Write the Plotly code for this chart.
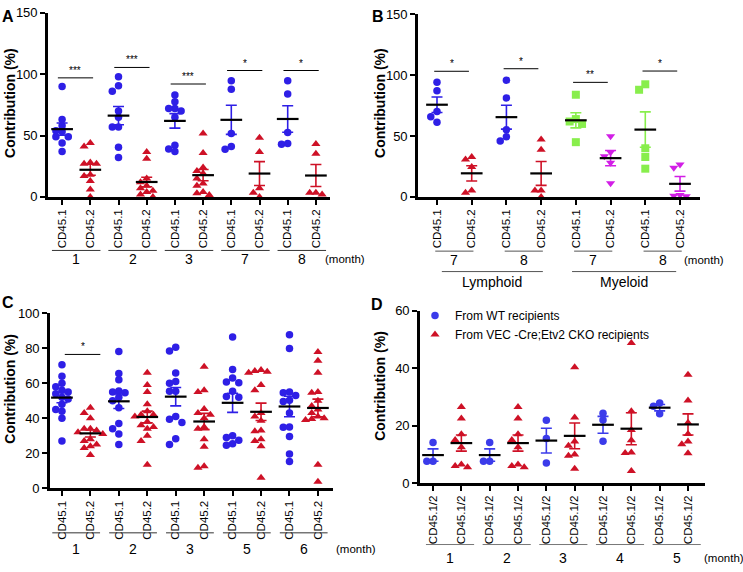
import numpy as np
import plotly.graph_objects as go

W, H = 743, 572

BLUE = "#2E1FE6"
BLUE_D = "#3B3BEA"
RED = "#CE1126"
GREEN = "#88EE4C"
MAGENTA = "#D21EE6"

# ---------------- Panel A data ----------------
A_ticks = ["CD45.1", "CD45.2"] * 5
A_groups = ["1", "2", "3", "7", "8"]
A_values = [
    [90, 63, 58, 54, 53, 49, 49, 44, 37],
    [44, 41, 28, 27, 27, 18, 17, 13, 6, 0],
    [98, 90.5, 86, 70, 65, 57, 57, 40.5, 32],
    [36.5, 31, 15, 12, 9, 7, 5, 4, 2, 0],
    [83, 77.5, 72, 72, 70, 65, 42, 39, 37],
    [51.6, 35.7, 24, 21, 19, 15, 11, 9, 4, 3, 1.5],
    [94.7, 87.8, 51.6, 41, 38.9],
    [48.1, 36.5, 7.1, 3.4, 0],
    [94.7, 83.9, 52.4, 42.9, 43.6],
    [43.1, 35.2, 3.4, 2, 3.4],
]
A_sig = ["***", "***", "***", "*", "*"]
A_sig_y = [97, 105.5, 92, 103, 103]

# ---------------- Panel B data ----------------
B_ticks = ["CD45.1", "CD45.2"] * 4
B_groups = ["7", "8", "7", "8"]
B_lineages = ["Lymphoid", "Myeloid"]
B_values = [
    [94.2, 87.3, 70.2, 65.9, 61.4],
    [30.7, 32.8, 24.6, 3.5, 5.3],
    [96, 81.4, 55.2, 45.9, 49.4],
    [47.2, 38.7, 5.3, 5.3, 0],
    [84, 64, 62, 60, 45],
    [49.9, 33.4, 36.8, 28, 11.2],
    [88.1, 92.6, 40, 32.8, 23.2],
    [26.7, 24, 1.5, 0.5, 1],
]
B_sig = ["*", "*", "**", "*"]
B_sig_y = [103.3, 105.4, 94.2, 103.5]

# ---------------- Panel C data ----------------
C_ticks = ["CD45.1", "CD45.2"] * 5
C_groups = ["1", "2", "3", "5", "6"]
C_values = [
    [70.5, 64, 60, 58, 56, 55, 54, 52, 51, 48, 45, 44, 40, 27],
    [46, 43, 40, 34, 34, 33, 32, 31, 28, 27, 25, 24, 23, 19],
    [78, 65.5, 62, 55.5, 55, 54.5, 52, 50, 46, 37, 34, 31, 25],
    [66, 59, 55, 48, 44, 42, 42, 41, 38, 36, 35, 34, 30, 27, 13.5],
    [80.5, 78.3, 65.8, 61, 60, 55.4, 55.4, 41, 39.4, 37.6, 28.3, 25],
    [69.4, 56, 55, 45.3, 43, 42, 40, 35, 34, 28, 23.7, 12.6, 11.7],
    [86.3, 67.8, 63, 60.7, 60.2, 55.4, 52.4, 52, 30, 29, 27.4, 25.5, 24.6],
    [67.5, 67, 66.5, 66, 59, 56, 43, 41, 38.5, 33, 32.5, 28, 27, 24, 6],
    [87.6, 79.8, 55, 54.5, 53, 50.2, 49.6, 43, 35, 34.8, 29.6, 19.6, 15.3],
    [77.8, 72.8, 66, 55, 54.5, 50, 47, 45, 43, 41, 40, 39.5, 39, 13.5, 3.7],
]
C_sig = ["*"]
C_sig_y = [76.4]

# ---------------- Panel D data ----------------
D_ticks = ["CD45.1/2"] * 10
D_groups = ["1", "2", "3", "4", "5"]
D_values = [
    [14.1, 7.6, 7.6],
    [26.5, 22.5, 17, 15, 12.5, 6.5, 6, 5.5],
    [14.1, 7.6, 7.6],
    [26.5, 22.5, 17, 15, 12.5, 6.5, 6, 5.5],
    [21.9, 15.5, 7],
    [40.3, 22.8, 14.5, 13, 10, 9.5, 5],
    [24.3, 22, 14.6],
    [48.7, 25, 18.5, 14.9, 10.7, 10.5, 4.2],
    [27.9, 26.7, 24.1],
    [37.7, 28.7, 21, 17.1, 14.5, 13.5, 10.4],
]
D_legend = ["From WT recipients", "From VEC -Cre;Etv2 CKO recipients"]

FONT = "Liberation Sans, Arial, sans-serif"


def px_y(ypx):
    return 1 - ypx / H


def swarm(vals, ky, kx, d=6.2):
    vals = np.asarray(vals, dtype=float)
    order = np.argsort(-vals, kind="stable")
    placed = []
    offs = np.zeros(len(vals))
    for i in order:
        y = vals[i] * ky
        x = 0.0
        for k in [0, -1, 1, -2, 2, -3, 3, -4, 4, -5, 5]:
            x = k * d
            if all((x - a) ** 2 + (y - b) ** 2 >= d * d * 0.999 for a, b in placed):
                break
        placed.append((x, y))
        offs[i] = x / kx
    return offs


fig = go.Figure()
shapes = []
annots = []

panels = [
    dict(values=A_values, ticks=A_ticks, colors=[BLUE, RED] * 5,
         symbols=["circle", "triangle-up"] * 5, xpx=(48, 330), ypx=(6, 195),
         yr=(0, 150), dt=50, xr=(-0.5, 9.5)),
    dict(values=B_values, ticks=B_ticks,
         colors=[BLUE, RED, BLUE, RED, GREEN, MAGENTA, GREEN, MAGENTA],
         symbols=["circle", "triangle-up", "circle", "triangle-up",
                  "square", "triangle-down", "square", "triangle-down"],
         xpx=(418, 700), ypx=(7.7, 195), yr=(0, 150), dt=50, xr=(-0.547, 7.576)),
    dict(values=C_values, ticks=C_ticks, colors=[BLUE, RED] * 5,
         symbols=["circle", "triangle-up"] * 5, xpx=(50, 333), ypx=(314.3, 494.3),
         yr=(0, 100), dt=20, xr=(-0.42, 9.53)),
    dict(values=D_values, ticks=D_ticks, colors=[BLUE_D, RED] * 5,
         symbols=["circle", "triangle-up"] * 5, xpx=(420, 705), ypx=(311.7, 489),
         yr=(0, 60), dt=20, xr=(-0.46, 9.6)),
]

layout_axes = {}
for p_i, p in enumerate(panels):
    n = p_i + 1
    xa = "x" if n == 1 else f"x{n}"
    ya = "y" if n == 1 else f"y{n}"
    xl, xr_px = p["xpx"]
    yt, yb = p["ypx"]
    kx = (xr_px - xl) / (p["xr"][1] - p["xr"][0])
    ky = (yb - yt) / (p["yr"][1] - p["yr"][0])
    for i, vals in enumerate(p["values"]):
        offs = swarm(vals, ky, kx)
        size = 7.5 if p["symbols"][i] == "circle" else 8
        show = (n == 4 and i in (0, 1))
        fig.add_trace(go.Scatter(
            x=i + offs, y=vals, mode="markers", xaxis=xa, yaxis=ya,
            marker=dict(symbol=p["symbols"][i], color=p["colors"][i], size=size,
                        line=dict(width=0)),
            cliponaxis=False, showlegend=show,
            name=D_legend[i] if show else "", hoverinfo="y"))
    for i, vals in enumerate(p["values"]):
        v = np.asarray(vals, dtype=float)
        m = v.mean()
        sem = v.std(ddof=1) / np.sqrt(len(v))
        fig.add_trace(go.Scatter(
            x=[i], y=[m], mode="markers", xaxis=xa, yaxis=ya,
            marker=dict(symbol="line-ew", size=15.5, color="black",
                        line=dict(width=2.2, color="black")),
            error_y=dict(type="data", array=[sem], visible=True,
                         color=p["colors"][i], thickness=1.6, width=5.5),
            cliponaxis=False, showlegend=False, hoverinfo="y"))
    layout_axes["xaxis" if n == 1 else f"xaxis{n}"] = dict(
        domain=[xl / W, xr_px / W], range=list(p["xr"]), anchor=ya,
        tickmode="array", tickvals=list(range(len(p["ticks"]))), ticktext=p["ticks"],
        tickangle=-90, ticks="outside", ticklen=5, tickwidth=2, tickcolor="black",
        showline=True, linewidth=2.6, linecolor="black", showgrid=False, zeroline=False,
        tickfont=dict(size=11.5, color="black", family=FONT), fixedrange=True)
    ticks_y = list(range(int(p["yr"][0]), int(p["yr"][1]) + 1, p["dt"]))
    layout_axes["yaxis" if n == 1 else f"yaxis{n}"] = dict(
        domain=[px_y(yb), px_y(yt)], range=list(p["yr"]), anchor=xa,
        tickmode="array", tickvals=ticks_y, ticks="outside", ticklen=5, tickwidth=2,
        tickcolor="black", showline=True, linewidth=2.6, linecolor="black",
        showgrid=False, zeroline=False,
        tickfont=dict(size=13, color="black", family=FONT), fixedrange=True)


def sig_bars(n, pairs, sigs, ys, lo, hi):
    xa = "x" if n == 1 else f"x{n}"
    ya = "y" if n == 1 else f"y{n}"
    for i, s, y in zip(pairs, sigs, ys):
        shapes.append(dict(type="line", xref=xa, yref=ya, x0=i + lo, x1=i + 1 + hi,
                           y0=y, y1=y, line=dict(color="black", width=1)))
        annots.append(dict(xref=xa, yref=ya, x=i + 0.5 + (lo + hi) / 2, y=y,
                           text=s, showarrow=False, yanchor="bottom", yshift=0,
                           font=dict(size=10, color="black", family=FONT)))


sig_bars(1, [0, 2, 4, 6, 8], A_sig, A_sig_y, -0.15, 0.1)
sig_bars(2, [0, 2, 4, 6], B_sig, B_sig_y, -0.08, -0.08)
sig_bars(3, [0], C_sig, C_sig_y, 0.1, 0.35)


def groups(n, labels, line_ypx, lab_ypx, half, shift=0.0, color="#333"):
    xa = "x" if n == 1 else f"x{n}"
    for g, lab in enumerate(labels):
        c = 2 * g + 0.5 + shift
        shapes.append(dict(type="line", xref=xa, yref="paper", x0=c - half, x1=c + half,
                           y0=px_y(line_ypx), y1=px_y(line_ypx),
                           line=dict(color=color, width=1)))
        annots.append(dict(xref=xa, yref="paper", x=c, y=px_y(lab_ypx), text=lab,
                           showarrow=False, yanchor="middle", xanchor="center",
                           font=dict(size=14, color="black", family=FONT)))


groups(1, A_groups, 250, 259, 0.86)
groups(2, B_groups, 250.7, 260, 0.55, color="#555")
groups(3, C_groups, 540, 557, 0.84)
groups(4, D_groups, 552, 566, 0.85, shift=0.1, color="#777")

for lab, (a, b) in zip(B_lineages, [(0.14, 3.05), (3.89, 6.89)]):
    shapes.append(dict(type="line", xref="x2", yref="paper", x0=a, x1=b,
                       y0=px_y(271.7), y1=px_y(271.7), line=dict(color="#555", width=1)))
    annots.append(dict(xref="x2", yref="paper", x=(a + b) / 2, y=px_y(282), text=lab,
                       showarrow=False, yanchor="middle",
                       font=dict(size=14, color="black", family=FONT)))

for xpx, ypx in [(323, 259), (682, 260), (334, 557), (702, 566)]:
    annots.append(dict(xref="paper", yref="paper", x=xpx / W, y=px_y(ypx), text="(month)",
                       showarrow=False, xanchor="left", yanchor="middle",
                       font=dict(size=11.5, color="black", family=FONT)))

for lab, xpx, ypx in [("A", 8, 10), ("B", 378, 10), ("C", 8, 303), ("D", 377, 305)]:
    annots.append(dict(xref="paper", yref="paper", x=xpx / W, y=px_y(ypx), text=f"<b>{lab}</b>",
                       showarrow=False, xanchor="center", yanchor="middle",
                       font=dict(size=16, color="black", family=FONT)))

for xpx, ypx in [(10, 98.5), (380, 98.5), (10, 392), (380, 389)]:
    annots.append(dict(xref="paper", yref="paper", x=xpx / W, y=px_y(ypx),
                       text="<b>Contribution (%)</b>", textangle=-90, showarrow=False,
                       xanchor="center", yanchor="middle",
                       font=dict(size=14, color="black", family=FONT)))

fig.update_layout(
    width=W, height=H, autosize=False,
    margin=dict(l=0, r=0, t=0, b=0),
    paper_bgcolor="white", plot_bgcolor="white",
    shapes=shapes, annotations=annots,
    showlegend=True,
    legend=dict(x=415 / W, y=px_y(302), xanchor="left", yanchor="top",
                font=dict(size=12, color="black", family=FONT),
                bgcolor="rgba(0,0,0,0)", borderwidth=0, tracegroupgap=0,
                itemsizing="trace"),
    font=dict(family=FONT, color="black"),
    **layout_axes,
)

fig.write_html("out.html",
               config={"displayModeBar": False},
               post_script="document.body.style.margin='0px';document.body.style.overflow='hidden';")
